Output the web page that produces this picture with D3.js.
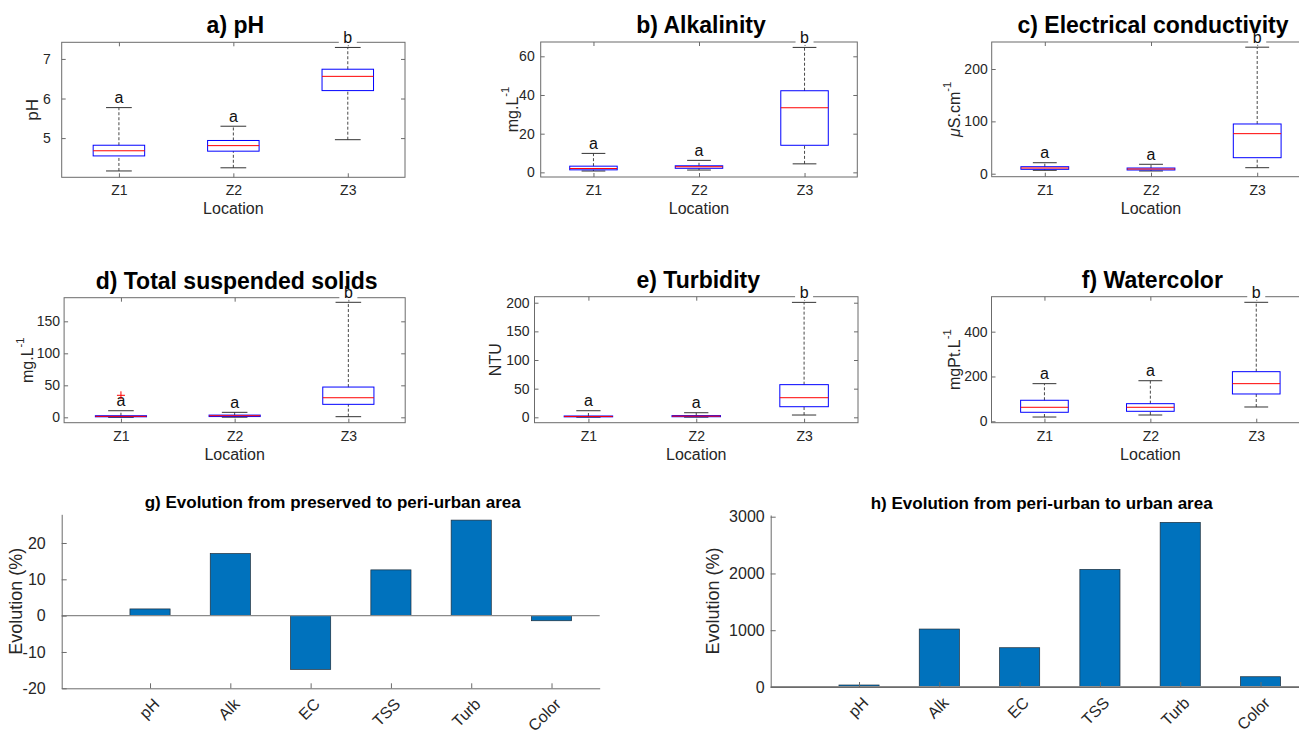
<!DOCTYPE html>
<html>
<head>
<meta charset="utf-8">
<script src="https://cdn.jsdelivr.net/npm/d3@7"></script>
<style>
body { margin: 0; background: #fff; }
svg { display: block; font-family: "Liberation Sans", Arial, Helvetica, sans-serif; }
</style>
</head>
<body>
<div id="chart"></div>
<script>
var locations = ["Z1", "Z2", "Z3"];
var groupLetters = ["a", "a", "b"];

// [lower whisker, Q1, median, Q3, upper whisker] per location
var phStats = [[4.17, 4.55, 4.68, 4.82, 5.77], [4.25, 4.67, 4.81, 4.94, 5.30], [4.96, 6.20, 6.56, 6.74, 7.29]];
var alkStats = [[0.7, 1.3, 2.0, 3.2, 9.8], [1.2, 2.1, 2.9, 3.4, 6.2], [4.4, 14.0, 33.4, 42.2, 64.6]];
var ecStats = [[6.5, 8.4, 10.9, 13.4, 21], [5.2, 7.1, 9.0, 10.9, 18], [11.5, 30.6, 76.5, 95, 241.7]];
var tssStats = [[0, 0.8, 1.5, 2.5, 10.3], [0.2, 1.2, 2.5, 3.5, 7.8], [1, 20.3, 30.6, 47.3, 179.7]];
var tssOutliers = [[34.4], [], []];
var turbStats = [[0.2, 0.8, 1.5, 2.3, 11.5], [0.3, 1.0, 2.0, 3.0, 8.0], [4, 18.5, 34.2, 57, 200.6]];
var colorStats = [[19, 40.2, 62.5, 93.8, 167.9], [28, 44.6, 62.5, 78.6, 181], [63.8, 121.9, 167.9, 221.4, 531]];

var phTicks = [5, 6, 7];
var alkTicks = [0, 20, 40, 60];
var ecTicks = [0, 100, 200];
var tssTicks = [0, 50, 100, 150];
var turbTicks = [0, 50, 100, 150, 200];
var colorTicks = [0, 200, 400];

var evoParams = ["pH", "Alk", "EC", "TSS", "Turb", "Color"];
var evoPreservedToPeri = [1.85, 17.1, -14.8, 12.6, 26.3, -1.4];
var evoPeriToUrban = [35, 1021, 692, 2072, 2900, 181];
var evoTicksG = [-20, -10, 0, 10, 20];
var evoTicksH = [0, 1000, 2000, 3000];

var width = 1299, height = 730;
var axisColor = "#6b6b6b", textColor = "#262626";
var plain = function(d) { return String(d); };

var svg = d3.select("#chart").append("svg")
    .attr("width", width)
    .attr("height", height);

var boxPanels = [
  {title: "a) pH", ylabel: [["pH"]], stats: phStats, ticks: phTicks, ylim: [4.01, 7.42],
   x0: 61.7, x1: 405, y0: 42.3, y1: 177.3, pad: 11, labX: 32, labSize: 17},
  {title: "b) Alkalinity", ylabel: [["mg.L"], ["-1", "sup"]], stats: alkStats, ticks: alkTicks, ylim: [-2.4, 67.4],
   x0: 540.7, x1: 857.3, y0: 42, y1: 177, pad: 6, labX: 512, labSize: 16},
  {title: "c) Electrical conductivity", ylabel: [["\u03bc", "it"], ["S.cm"], ["-1", "sup"]], stats: ecStats, ticks: ecTicks, ylim: [-5.7, 251.6],
   x0: 991.7, x1: 1310.3, y0: 42, y1: 176.7, pad: 4, labX: 954, labSize: 16},
  {title: "d) Total suspended solids", ylabel: [["mg.L"], ["-1", "sup"]], stats: tssStats, outliers: tssOutliers, ticks: tssTicks, ylim: [-8.4, 186.9],
   x0: 64.1, x1: 405.2, y0: 297.7, y1: 422.7, pad: 4, labX: 27, labSize: 16},
  {title: "e) Turbidity", ylabel: [["NTU"]], stats: turbStats, ticks: turbTicks, ylim: [-9.4, 210.5],
   x0: 534.5, x1: 858, y0: 296.7, y1: 422.7, pad: 5, labX: 495, labSize: 16},
  {title: "f) Watercolor", ylabel: [["mgPt.L"], ["-1", "sup"]], stats: colorStats, ticks: colorTicks, ylim: [-6.3, 556],
   x0: 991.5, x1: 1309.2, y0: 296.7, y1: 422.7, pad: 4, labX: 954, labSize: 16}
];

var barPanels = [
  {title: "g) Evolution from preserved to peri-urban area", values: evoPreservedToPeri, ticks: evoTicksG, ylim: [-20, 27.9],
   x0: 61.7, x1: 599.7, y0: 514.3, y1: 688.3, pad: 16, labX: 15.5},
  {title: "h) Evolution from peri-urban to urban area", values: evoPeriToUrban, ticks: evoTicksH, ylim: [0, 3030],
   x0: 770.7, x1: 1308.7, y0: 515, y1: 687, pad: 6, labX: 713}
];

function styleAxis(sel, fontSize) {
  sel.select(".domain").remove();
  sel.selectAll(".tick line").attr("stroke", axisColor);
  sel.selectAll(".tick text").attr("fill", textColor).attr("font-size", fontSize);
}

function addYLabel(g, parts, x, cy, size) {
  var t = g.append("text")
      .attr("transform", "translate(" + x + "," + cy + ") rotate(-90)")
      .attr("text-anchor", "middle")
      .attr("dominant-baseline", "central")
      .attr("font-size", size)
      .attr("fill", textColor);
  parts.forEach(function(p) {
    var s = t.append("tspan").text(p[0]);
    if (p[1] == "it") s.attr("font-style", "italic");
    if (p[1] == "sup") s.attr("font-size", size * 0.7).attr("dy", -size * 0.45);
  });
}

function drawBoxPanel(p) {
  var g = svg.append("g");
  var x = d3.scalePoint().domain(locations).range([p.x0, p.x1]).padding(0.5);
  var y = d3.scaleLinear().domain(p.ylim).range([p.y1, p.y0]);
  var bw = x.step() * 0.45, cw = bw / 2;

  g.append("g").attr("transform", "translate(" + p.x0 + ",0)")
    .call(d3.axisLeft(y).tickValues(p.ticks).tickFormat(plain).tickSize(-4).tickPadding(p.pad))
    .call(styleAxis, 14);
  g.append("g").attr("transform", "translate(" + p.x1 + ",0)")
    .call(d3.axisRight(y).tickValues(p.ticks).tickSize(-4).tickFormat(""))
    .call(styleAxis, 14);
  g.append("g").attr("transform", "translate(0," + p.y1 + ")")
    .call(d3.axisBottom(x).tickSize(-4).tickPadding(8))
    .call(styleAxis, 14);
  g.append("g").attr("transform", "translate(0," + p.y0 + ")")
    .call(d3.axisTop(x).tickSize(-4).tickFormat(""))
    .call(styleAxis, 14);

  g.append("rect")
    .attr("x", p.x0).attr("y", p.y0)
    .attr("width", p.x1 - p.x0).attr("height", p.y1 - p.y0)
    .attr("fill", "none").attr("stroke", axisColor).attr("stroke-width", 1);

  var rows = p.stats.map(function(s, i) {
    return {loc: locations[i], s: s, letter: groupLetters[i], out: p.outliers ? p.outliers[i] : []};
  });

  var item = g.selectAll(".bx").data(rows).enter().append("g").attr("class", "bx");

  // whiskers
  item.append("line")
    .attr("x1", function(d) { return x(d.loc); }).attr("x2", function(d) { return x(d.loc); })
    .attr("y1", function(d) { return y(d.s[3]); }).attr("y2", function(d) { return y(d.s[4]); })
    .attr("stroke", "#333").attr("stroke-dasharray", "3,2").attr("stroke-width", 0.9);
  item.append("line")
    .attr("x1", function(d) { return x(d.loc); }).attr("x2", function(d) { return x(d.loc); })
    .attr("y1", function(d) { return y(d.s[0]); }).attr("y2", function(d) { return y(d.s[1]); })
    .attr("stroke", "#333").attr("stroke-dasharray", "3,2").attr("stroke-width", 0.9);
  [0, 4].forEach(function(k) {
    item.append("line")
      .attr("x1", function(d) { return x(d.loc) - cw / 2; }).attr("x2", function(d) { return x(d.loc) + cw / 2; })
      .attr("y1", function(d) { return y(d.s[k]); }).attr("y2", function(d) { return y(d.s[k]); })
      .attr("stroke", "#333").attr("stroke-width", 1);
  });

  // box and median
  item.append("rect")
    .attr("x", function(d) { return x(d.loc) - bw / 2; })
    .attr("y", function(d) { return y(d.s[3]); })
    .attr("width", bw)
    .attr("height", function(d) { return Math.max(0.5, y(d.s[1]) - y(d.s[3])); })
    .attr("fill", "none").attr("stroke", "#0000ff").attr("stroke-width", 1);
  item.append("line")
    .attr("x1", function(d) { return x(d.loc) - bw / 2; }).attr("x2", function(d) { return x(d.loc) + bw / 2; })
    .attr("y1", function(d) { return y(d.s[2]); }).attr("y2", function(d) { return y(d.s[2]); })
    .attr("stroke", "#ff0000").attr("stroke-width", 1);

  // group letters with white background
  item.append("rect")
    .attr("x", function(d) { return x(d.loc) - 9; })
    .attr("y", function(d) { return y(d.s[4]) - 4.5 - 11.5; })
    .attr("width", 18).attr("height", 13.5)
    .attr("fill", "#fff");
  item.append("text")
    .attr("x", function(d) { return x(d.loc); })
    .attr("y", function(d) { return y(d.s[4]) - 4.5; })
    .attr("text-anchor", "middle")
    .attr("font-size", 16)
    .attr("fill", "#111")
    .text(function(d) { return d.letter; });

  // outliers
  item.each(function(d) {
    var gg = d3.select(this);
    d.out.forEach(function(v) {
      var cx = x(d.loc), cy = y(v);
      gg.append("path")
        .attr("d", "M" + (cx - 4) + "," + cy + "H" + (cx + 4) + "M" + cx + "," + (cy - 4) + "V" + (cy + 4))
        .attr("stroke", "#ff0000").attr("stroke-width", 1);
    });
  });

  g.append("text")
    .attr("x", (p.x0 + p.x1) / 2 + 2).attr("y", p.y0 - 9)
    .attr("text-anchor", "middle")
    .attr("font-size", 23).attr("font-weight", "bold")
    .attr("fill", "#000")
    .text(p.title);

  g.append("text")
    .attr("x", (p.x0 + p.x1) / 2).attr("y", p.y1 + 37)
    .attr("text-anchor", "middle")
    .attr("font-size", 16).attr("fill", textColor)
    .text("Location");

  addYLabel(g, p.ylabel, p.labX, (p.y0 + p.y1) / 2, p.labSize);
}

function drawBarPanel(p) {
  var g = svg.append("g");
  var x = d3.scaleLinear().domain([-0.1, 6.6]).range([p.x0, p.x1]);
  var y = d3.scaleLinear().domain(p.ylim).range([p.y1, p.y0]);
  var idx = evoParams.map(function(d, i) { return i + 1; });

  g.selectAll(".bar").data(p.values).enter().append("rect")
    .attr("class", "bar")
    .attr("x", function(d, i) { return x(i + 1 - 0.25); })
    .attr("width", x(1.25) - x(0.75))
    .attr("y", function(d) { return y(Math.max(0, d)); })
    .attr("height", function(d) { return Math.abs(y(d) - y(0)); })
    .attr("fill", "#0072bd")
    .attr("stroke", "#1d2d3a")
    .attr("stroke-width", 0.7);

  // baseline at zero
  g.append("line")
    .attr("x1", p.x0).attr("x2", p.x1)
    .attr("y1", y(0)).attr("y2", y(0))
    .attr("stroke", "#8a8a8a").attr("stroke-width", p.ylim[0] == 0 ? 2.2 : 1.3);

  g.append("g").attr("transform", "translate(" + p.x0 + ",0)")
    .call(d3.axisLeft(y).tickValues(p.ticks).tickFormat(plain).tickSize(-5).tickSizeOuter(0).tickPadding(p.pad))
    .call(function(s) {
      s.select(".domain").attr("stroke", axisColor);
      s.selectAll(".tick line").attr("stroke", axisColor);
      s.selectAll(".tick text").attr("fill", textColor).attr("font-size", 16);
    });

  var xa = g.append("g").attr("transform", "translate(0," + p.y1 + ")")
    .call(d3.axisBottom(x).tickValues(idx).tickFormat(function(i) { return evoParams[i - 1]; })
      .tickSize(-5).tickSizeOuter(0));
  xa.select(".domain").attr("stroke", axisColor);
  xa.selectAll(".tick line").attr("stroke", axisColor);
  xa.selectAll(".tick text")
    .attr("x", 0).attr("y", 0).attr("dy", null)
    .attr("transform", "translate(6,13) rotate(-45)")
    .attr("text-anchor", "end")
    .attr("dominant-baseline", "central")
    .attr("fill", textColor).attr("font-size", 16);

  g.append("text")
    .attr("x", (p.x0 + p.x1) / 2 + 2).attr("y", p.y0 - 6)
    .attr("text-anchor", "middle")
    .attr("font-size", 17).attr("font-weight", "bold")
    .attr("fill", "#000")
    .text(p.title);

  addYLabel(g, [["Evolution (%)"]], p.labX, (p.y0 + p.y1) / 2, 18);
}

boxPanels.forEach(drawBoxPanel);
barPanels.forEach(drawBarPanel);
</script>
</body>
</html>
